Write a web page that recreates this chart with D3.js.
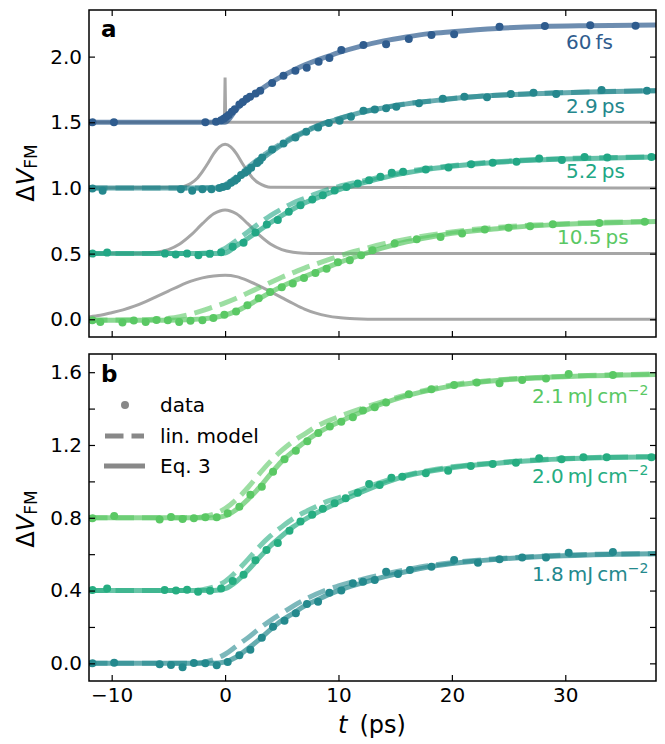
<!DOCTYPE html>
<html>
<head>
<meta charset="utf-8">
<script src="https://cdn.jsdelivr.net/npm/d3@7"></script>
<style>
  body { margin: 0; background: #fff; }
  svg { display: block; font-family: "DejaVu Sans", sans-serif; }
</style>
</head>
<body>
<svg id="chart" width="665" height="744"></svg>
<script>
// ---------------- DATA ----------------
const xTicks = [-10, 0, 10, 20, 30];
const yTicksA = [0, 0.5, 1.0, 1.5, 2.0];
const yTicksB = [0, 0.2, 0.4, 0.6, 0.8, 1.0, 1.2, 1.4, 1.6];

// common time grid of the model curves (ps)
const tFit = [-12,-8,-6,-5,-4,-3,-2,-1,0,1,2,3,4,5,6,7,8,9,10,12,14,16,18,20,24,28,32,38];

// ---- panel a : pulse durations ----
const labelsA = ["60\u2009fs", "2.9\u2009ps", "5.2\u2009ps", "10.5\u2009ps"];

const data60 = [[-11.7,1.5],[-9.8,1.5],[-1.74,1.5],[-0.8,1.505],[-0.35,1.515],[-0.12,1.527],[0.09,1.54],[0.32,1.555],[0.6,1.58],[0.86,1.6],[1.26,1.635],[1.56,1.655],[1.9,1.68],[2.2,1.695],[2.7,1.72],[3.1,1.74],[4.15,1.8],[5.15,1.855],[6.2,1.893],[7.2,1.915],[8.25,1.96],[9.2,1.99],[10.25,2.05],[12.2,2.088],[14.2,2.095],[16.2,2.134],[18.2,2.165],[20.2,2.17],[24.2,2.228],[28.2,2.233],[32.2,2.238],[36.2,2.236]];
const data29 = [[-11.7,0.996],[-10.8,0.978],[-3.9,0.991],[-2.9,0.978],[-2.0,0.99],[-1.2,0.99],[-0.5,1.0],[-0.2,1.008],[0.18,1.014],[0.53,1.039],[0.85,1.055],[1.06,1.07],[1.41,1.098],[1.75,1.115],[2.0,1.13],[2.3,1.153],[2.83,1.19],[3.05,1.207],[3.27,1.232],[4.15,1.293],[5.15,1.339],[6.2,1.385],[7.15,1.428],[8.2,1.46],[9.15,1.494],[10.1,1.511],[11.1,1.542],[12.2,1.588],[13.2,1.598],[14.2,1.606],[15.1,1.618],[17.1,1.644],[19.2,1.679],[21.1,1.694],[23.1,1.69],[25.2,1.715],[27.2,1.725],[29.2,1.715],[33.2,1.745],[37.2,1.74]];
const data52 = [[-11.7,0.5],[-10.4,0.508],[-5.3,0.5],[-4.35,0.494],[-3.35,0.5],[-2.35,0.488],[-1.35,0.498],[-0.35,0.51],[0.67,0.553],[1.63,0.583],[2.68,0.66],[3.68,0.722],[4.65,0.755],[5.62,0.818],[6.65,0.869],[7.69,0.912],[8.62,0.945],[9.66,0.98],[10.7,1.008],[11.7,1.034],[12.7,1.059],[13.7,1.085],[14.7,1.115],[15.7,1.123],[17.7,1.141],[19.7,1.156],[21.7,1.181],[23.6,1.191],[25.7,1.199],[27.7,1.225],[29.7,1.212],[31.7,1.235],[33.7,1.232],[37.6,1.235]];
const data105 = [[-11.7,-0.008],[-11.0,-0.02],[-9.05,-0.025],[-8.05,-0.01],[-7.0,-0.02],[-6.05,-0.005],[-5.05,-0.008],[-4.05,-0.02],[-3.05,-0.012],[-2.0,-0.008],[-1.03,0.01],[-0.06,0.034],[0.97,0.06],[1.97,0.107],[2.97,0.16],[3.97,0.208],[5.0,0.244],[5.97,0.272],[6.96,0.314],[7.97,0.353],[8.95,0.385],[9.95,0.434],[11.0,0.45],[12.0,0.488],[13.0,0.526],[14.95,0.577],[16.9,0.61],[19.0,0.627],[20.9,0.653],[22.9,0.684],[25.0,0.696],[26.9,0.709],[28.9,0.724],[33.0,0.734],[37.0,0.742]];

const eq60  = [1.5,1.5,1.5,1.5,1.5,1.5,1.5,1.5,1.5,1.6,1.675,1.74,1.8,1.85,1.895,1.935,1.97,2.0,2.03,2.08,2.12,2.15,2.175,2.19,2.215,2.23,2.236,2.24];
const eq29  = [1,1,1,1,1,1,1,1,1.005,1.065,1.135,1.205,1.27,1.33,1.38,1.425,1.465,1.5,1.525,1.575,1.61,1.64,1.66,1.68,1.705,1.72,1.73,1.74];
const lin29 = [1,1,1,1,1,1,1,1.005,1.025,1.085,1.155,1.225,1.285,1.34,1.39,1.43,1.47,1.502,1.527,1.577,1.612,1.641,1.661,1.681,1.706,1.721,1.731,1.741];
const eq52  = [0.5,0.5,0.5,0.5,0.5,0.5,0.5,0.5,0.505,0.56,0.615,0.675,0.735,0.79,0.84,0.885,0.92,0.955,0.985,1.035,1.08,1.115,1.145,1.165,1.195,1.215,1.225,1.235];
const lin52 = [0.5,0.5,0.5,0.5,0.5,0.5,0.502,0.512,0.54,0.6,0.665,0.73,0.79,0.84,0.885,0.92,0.955,0.985,1.01,1.05,1.09,1.125,1.15,1.17,1.2,1.218,1.228,1.237];
const eq105 = [-0.008,-0.008,-0.008,-0.007,-0.005,-0.002,0.003,0.013,0.032,0.062,0.105,0.155,0.205,0.25,0.29,0.325,0.36,0.395,0.43,0.49,0.545,0.59,0.625,0.655,0.69,0.715,0.73,0.745];
const lin105= [-0.005,-0.004,0.0,0.007,0.02,0.04,0.065,0.095,0.125,0.16,0.2,0.24,0.28,0.32,0.355,0.39,0.42,0.45,0.48,0.53,0.575,0.61,0.64,0.665,0.7,0.72,0.735,0.745];

// pulse profiles (grey)
const irf60T = [-12,-0.06,0,0.06,38];
const irf60V = [1.5,1.5,1.84,1.5,1.5];
const irf29T = [-12,-4,-3.5,-3,-2.5,-2,-1.5,-1,-0.5,0,0.5,1,1.5,2,2.5,3,3.5,4,38];
const irf29V = [1,1.005,1.015,1.035,1.07,1.125,1.19,1.262,1.313,1.333,1.313,1.262,1.19,1.125,1.07,1.035,1.015,1.005,1];
const irf52T = [-12,-8,-7,-6,-5,-4,-3,-2,-1,0,1,2,3,4,5,6,7,8,38];
const irf52V = [0.5,0.5,0.503,0.511,0.531,0.573,0.642,0.728,0.803,0.833,0.803,0.728,0.642,0.573,0.531,0.511,0.503,0.5,0.5];
const irf105T = [-12,-11,-10,-9,-8,-7,-6,-5,-4,-3,-2,-1,0,1,2,3,4,5,6,7,8,9,10,11,12,13,38];
const irf105V = [0.018,0.03,0.05,0.072,0.1,0.135,0.175,0.215,0.255,0.29,0.315,0.33,0.335,0.325,0.295,0.255,0.21,0.165,0.12,0.078,0.047,0.026,0.013,0.006,0.002,0,0];

// ---- panel b : fluences ----
const labelsB = ["2.1\u2009mJ\u2009cm", "2.0\u2009mJ\u2009cm", "1.8\u2009mJ\u2009cm"];
const legendLabels = ["data", "lin. model", "Eq. 3"];

const data21 = [[-11.7,0.797],[-9.78,0.81],[-5.77,0.79],[-4.77,0.804],[-3.75,0.793],[-2.75,0.798],[-1.74,0.803],[-0.74,0.803],[0.23,0.825],[1.26,0.861],[2.23,0.927],[3.24,0.971],[4.23,1.053],[5.24,1.122],[6.24,1.169],[7.25,1.221],[8.22,1.266],[9.24,1.301],[10.25,1.328],[11.27,1.352],[12.16,1.389],[13.2,1.407],[14.2,1.433],[16.2,1.479],[18.2,1.506],[20.2,1.53],[22.2,1.543],[24.2,1.539],[26.2,1.557],[28.3,1.565],[30.3,1.59],[34.2,1.585]];
const data20 = [[-11.7,0.403],[-10.4,0.412],[-5.33,0.403],[-4.33,0.4],[-3.35,0.405],[-2.38,0.394],[-1.33,0.399],[-0.35,0.412],[0.67,0.453],[1.63,0.487],[2.68,0.566],[3.65,0.623],[4.65,0.662],[5.68,0.728],[6.65,0.78],[7.68,0.817],[8.62,0.85],[9.66,0.88],[10.63,0.907],[11.7,0.938],[12.7,0.986],[13.63,0.98],[14.67,1.02],[15.63,1.026],[17.7,1.044],[19.67,1.059],[21.67,1.085],[23.6,1.096],[25.65,1.103],[27.7,1.127],[29.67,1.121],[31.6,1.132],[33.65,1.132],[37.6,1.132]];
const data18 = [[-11.7,0.0],[-9.78,0.003],[-5.77,-0.005],[-4.77,-0.009],[-3.75,-0.022],[-2.75,0.002],[-1.74,0.0],[-0.74,-0.011],[0.23,0.007],[1.26,0.044],[2.23,0.075],[3.24,0.14],[4.23,0.201],[5.24,0.234],[6.24,0.275],[7.22,0.326],[8.2,0.339],[9.2,0.388],[10.25,0.401],[11.27,0.44],[12.16,0.449],[13.2,0.458],[14.2,0.504],[15.25,0.491],[16.3,0.513],[18.2,0.531],[20.2,0.568],[22.3,0.553],[24.2,0.572],[26.2,0.581],[28.3,0.582],[30.3,0.608],[34.2,0.612]];

const eq21  = [0.8,0.8,0.8,0.8,0.8,0.8,0.8,0.8,0.81,0.845,0.9,0.965,1.04,1.11,1.165,1.215,1.26,1.295,1.325,1.38,1.43,1.47,1.5,1.525,1.555,1.57,1.58,1.588];
const lin21 = [0.8,0.8,0.8,0.8,0.8,0.8,0.805,0.82,0.85,0.9,0.965,1.04,1.11,1.17,1.22,1.26,1.3,1.33,1.355,1.4,1.44,1.475,1.505,1.53,1.558,1.572,1.582,1.59];
const eq20  = [0.4,0.4,0.4,0.4,0.4,0.4,0.4,0.4,0.41,0.45,0.51,0.58,0.645,0.7,0.75,0.79,0.825,0.855,0.885,0.94,0.99,1.03,1.055,1.075,1.1,1.118,1.128,1.135];
const lin20 = [0.4,0.4,0.4,0.4,0.4,0.4,0.405,0.42,0.45,0.505,0.57,0.64,0.7,0.75,0.795,0.83,0.86,0.89,0.91,0.955,1.0,1.035,1.06,1.08,1.103,1.12,1.13,1.136];
const eq18  = [0,0,0,0,0,0,0,0,0.008,0.035,0.08,0.13,0.185,0.235,0.275,0.315,0.345,0.375,0.4,0.44,0.475,0.505,0.53,0.548,0.572,0.587,0.596,0.602];
const lin18 = [0,0,0,0,0,0,0.005,0.02,0.05,0.095,0.14,0.19,0.235,0.275,0.315,0.35,0.38,0.405,0.425,0.46,0.49,0.515,0.537,0.553,0.575,0.59,0.598,0.603];

// ---------------- LAYOUT / STYLE ----------------
const L = 89, R = 656;
const A = {top: 10, bottom: 337}, B = {top: 354, bottom: 681};
const colA = ["#2f5c8e", "#25878d", "#22a785", "#5ac864"];
const colB = ["#5ac864", "#26ad81", "#24898d"];
const grey = "#a6a6a6";
const FONT = 20;

const svg = d3.select("#chart");
const x = d3.scaleLinear().domain([-12, 38]).range([L, R]);
const yA = d3.scaleLinear().domain([-0.135, 2.355]).range([A.bottom, A.top]);
const yB = d3.scaleLinear().domain([-0.097, 1.70]).range([B.bottom, B.top]);

const defs = svg.append("defs");
defs.append("clipPath").attr("id", "clipA").append("rect")
  .attr("x", L).attr("y", A.top).attr("width", R - L).attr("height", A.bottom - A.top);
defs.append("clipPath").attr("id", "clipB").append("rect")
  .attr("x", L).attr("y", B.top).attr("width", R - L).attr("height", B.bottom - B.top);

function zipT(ts, vs) { return ts.map((t, i) => [t, vs[i]]); }

function drawSeries(g, y, pts, eq, lin, color) {
  const line = d3.line().x(d => x(d[0])).y(d => y(d[1])).curve(d3.curveMonotoneX);
  if (lin) g.append("path").datum(zipT(tFit, lin)).attr("d", line)
    .attr("fill", "none").attr("stroke", color).attr("stroke-width", 5)
    .attr("stroke-opacity", 0.6).attr("stroke-dasharray", "18.5,8");
  g.append("path").datum(zipT(tFit, eq)).attr("d", line)
    .attr("fill", "none").attr("stroke", color).attr("stroke-width", 5)
    .attr("stroke-opacity", 0.7);
  g.selectAll(null).data(pts).enter().append("circle")
    .attr("cx", d => x(d[0])).attr("cy", d => y(d[1])).attr("r", 4)
    .attr("fill", color);
}

function drawAxes(top, bottom, y, yTicks, yFmt, showX) {
  const g = svg.append("g");
  g.append("g").attr("transform", `translate(${L},0)`)
    .call(d3.axisLeft(y).tickValues(yTicks).tickSize(-6).tickPadding(7).tickFormat(yFmt));
  g.append("g").attr("transform", `translate(${R},0)`)
    .call(d3.axisRight(y).tickValues(yTicks).tickSize(-6).tickFormat(""));
  g.append("g").attr("transform", `translate(0,${top})`)
    .call(d3.axisTop(x).tickValues(xTicks).tickSize(-6).tickFormat(""));
  g.append("g").attr("transform", `translate(0,${bottom})`)
    .call(d3.axisBottom(x).tickValues(xTicks).tickSize(-6).tickPadding(7)
      .tickFormat(showX ? (d => d < 0 ? "\u2212" + Math.abs(d) : String(d)) : ""));
  g.selectAll(".domain").remove();
  g.selectAll(".tick line").attr("stroke", "#000").attr("stroke-width", 1.2);
  g.selectAll("text").attr("font-size", FONT).attr("font-family", "DejaVu Sans").attr("fill", "#000");
  g.append("rect").attr("x", L).attr("y", top).attr("width", R - L).attr("height", bottom - top)
    .attr("fill", "none").attr("stroke", "#000").attr("stroke-width", 1.5);
}

// ---------- panel a ----------
const gA = svg.append("g").attr("clip-path", "url(#clipA)");
const greyLine = d3.line().x(d => x(d[0])).y(d => yA(d[1])).curve(d3.curveMonotoneX);
[[irf29T, irf29V], [irf52T, irf52V], [irf105T, irf105V]].forEach(([t, v]) => {
  gA.append("path").datum(zipT(t, v)).attr("d", greyLine)
    .attr("fill", "none").attr("stroke", grey).attr("stroke-width", 3);
});
gA.append("path").datum(zipT(irf60T, irf60V))
  .attr("d", d3.line().x(d => x(d[0])).y(d => yA(d[1])))
  .attr("fill", "none").attr("stroke", grey).attr("stroke-width", 3);

drawSeries(gA, yA, data105, eq105, lin105, colA[3]);
drawSeries(gA, yA, data52, eq52, lin52, colA[2]);
drawSeries(gA, yA, data29, eq29, lin29, colA[1]);
drawSeries(gA, yA, data60, eq60, null, colA[0]);

drawAxes(A.top, A.bottom, yA, yTicksA, d => d.toFixed(1), false);

const labAPos = [[566, 49], [566, 113], [566, 178], [557, 244]];
labelsA.forEach((s, i) => {
  svg.append("text").attr("x", labAPos[i][0]).attr("y", labAPos[i][1])
    .attr("font-size", FONT).attr("fill", colA[i]).text(s);
});
svg.append("text").attr("x", 101).attr("y", 37).attr("font-size", 23)
  .attr("font-weight", "bold").text("a");

// ---------- panel b ----------
const gB = svg.append("g").attr("clip-path", "url(#clipB)");
drawSeries(gB, yB, data18, eq18, lin18, colB[2]);
drawSeries(gB, yB, data20, eq20, lin20, colB[1]);
drawSeries(gB, yB, data21, eq21, lin21, colB[0]);

drawAxes(B.top, B.bottom, yB, yTicksB,
  d => (Math.round(d * 10) % 4 === 0 ? d.toFixed(1) : ""), true);

const labBPos = [[532, 403], [532, 483], [532, 581]];
labelsB.forEach((s, i) => {
  const t = svg.append("text").attr("x", labBPos[i][0]).attr("y", labBPos[i][1])
    .attr("font-size", FONT).attr("fill", colB[i]);
  t.append("tspan").text(s);
  t.append("tspan").attr("dy", -8).attr("font-size", 14).text("\u22122");
});
svg.append("text").attr("x", 101).attr("y", 382).attr("font-size", 23)
  .attr("font-weight", "bold").text("b");

// legend
const lg = svg.append("g");
lg.append("circle").attr("cx", 125).attr("cy", 405).attr("r", 4).attr("fill", "#888");
lg.append("line").attr("x1", 105).attr("x2", 144).attr("y1", 436).attr("y2", 436)
  .attr("stroke", "#888").attr("stroke-width", 5).attr("stroke-dasharray", "18.5,8");
lg.append("line").attr("x1", 104).attr("x2", 145).attr("y1", 466).attr("y2", 466)
  .attr("stroke", "#888").attr("stroke-width", 5);
[412, 443, 473].forEach((yy, i) => {
  lg.append("text").attr("x", 160).attr("y", yy).attr("font-size", FONT).text(legendLabels[i]);
});

// axis labels
function yLabel(cy) {
  const t = svg.append("text").attr("transform", `translate(34,${cy}) rotate(-90)`)
    .attr("text-anchor", "middle").attr("font-size", 24);
  t.append("tspan").text("\u0394");
  t.append("tspan").attr("font-style", "italic").text("V");
  t.append("tspan").attr("font-size", 17).attr("dy", 3).text("FM");
}
yLabel(173);
yLabel(519);
const xl = svg.append("text").attr("x", 372).attr("y", 733)
  .attr("text-anchor", "middle").attr("font-size", 24);
xl.append("tspan").attr("font-style", "italic").text("t");
xl.append("tspan").text("\u2002(ps)");
</script>
</body>
</html>
